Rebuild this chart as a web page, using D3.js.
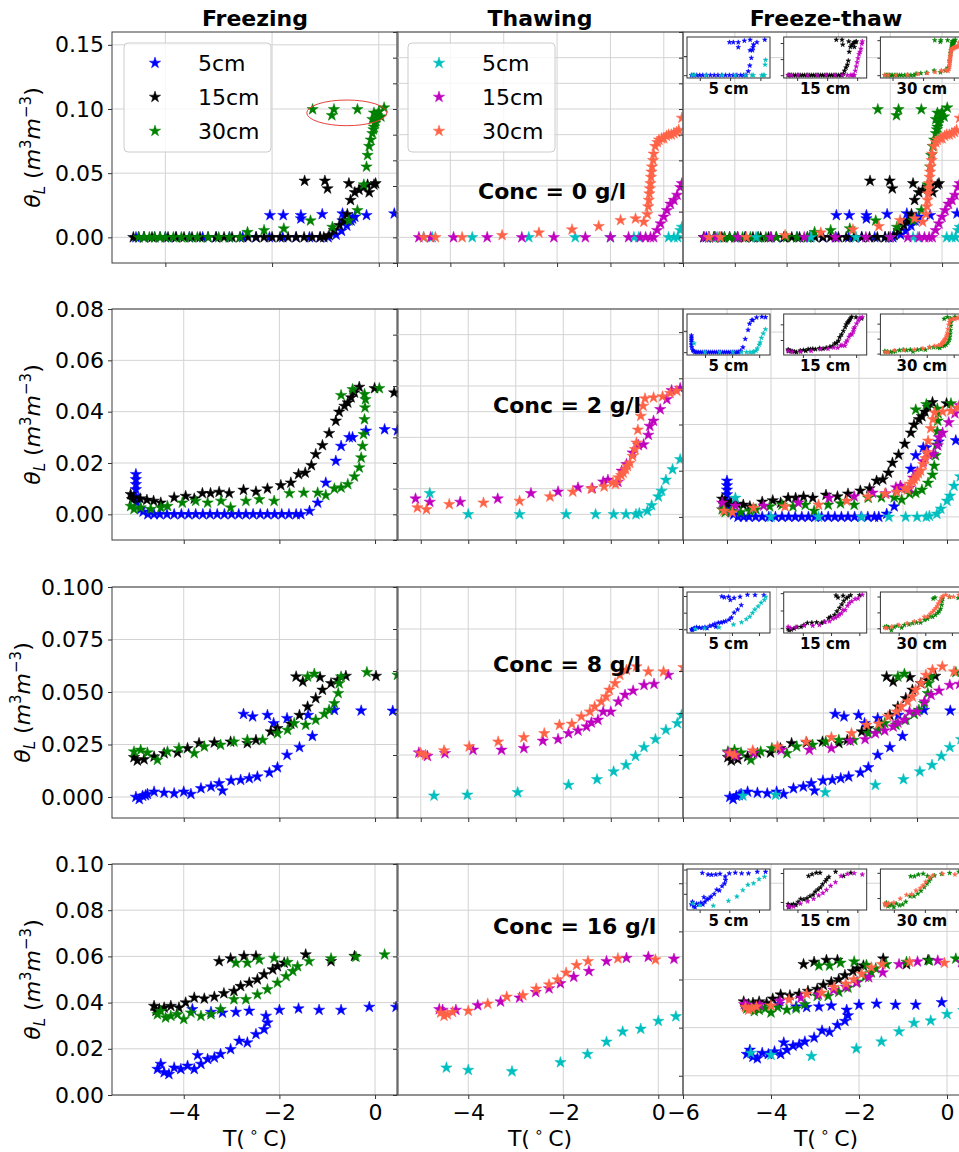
<!DOCTYPE html>
<html>
<head>
<meta charset="utf-8">
<script src="https://cdn.jsdelivr.net/npm/d3@7"></script>
<style>
body { margin: 0; background: #fff; }
svg { display: block; font-family: "DejaVu Sans", sans-serif; }
</style>
</head>
<body>
<svg id="fig" width="959" height="1152"></svg>
<script>
// ---- data: [T (degC), theta_L (m3/m3)] ----

// Conc = 0 g/l
const freeze5_c0 = [[-4.55,0],[-4.4,0],[-4.2,0],[-4.0,0],[-3.8,0],[-3.55,0],[-3.3,0],[-3.05,0],[-2.8,0],[-2.55,0],[-2.3,0],[-2.05,0],[-1.8,0],[-1.55,0],[-1.3,0],[-1.1,0],[-0.95,0],[-0.8,0.002],[-0.7,0.005],[-0.6,0.009],[-0.52,0.013],[-0.45,0.016],
  [-2.04,0.0172],[-1.79,0.0172],[-1.46,0.0172],[-1.46,0.0146],[-1.06,0.018],[-0.68,0.0185],[-0.68,0.013],[-0.49,0.0146],[-0.23,0.0172],[0.29,0.0185]];
const freeze15_c0 = [[-4.6,0],[-4.5,0],[-4.4,0],[-4.25,0],[-4.1,0],[-3.95,0],[-3.8,0],[-3.65,0],[-3.5,0],[-3.35,0],[-3.2,0],[-3.05,0],[-2.9,0],[-2.75,0],[-2.6,0],[-2.45,0],[-2.3,0],[-2.15,0],[-2.0,0],[-1.85,0],[-1.7,0],[-1.55,0],[-1.4,0],[-1.25,0],[-1.1,0],[-1.03,0],
  [-0.93,0.0016],[-0.84,0.0055],[-0.74,0.0094],[-0.65,0.013],[-0.59,0.018],[-0.53,0.029],[-0.45,0.035],[-0.37,0.037],[-0.28,0.039],[-0.18,0.035],[-0.09,0.041],[-0.06,0.042],
  [-1.39,0.044],[-1.01,0.044],[-0.96,0.038],[-0.56,0.042],[-0.21,0.041]];
const freeze30_c0 = [[-4.5,0],[-4.4,0],[-4.3,0],[-4.2,0],[-4.1,0],[-4.0,0],[-3.85,0],[-3.7,0],[-3.55,0],[-3.4,0],[-3.2,0],[-3.0,0],[-2.8,0],[-2.6,0],[-2.46,0.004],[-2.15,0.0055],[-1.78,0.0068],[-1.28,0.013],[-0.87,0.008],[-0.56,0.013],[-0.4,0.021],
  [-0.28,0.041],[-0.23,0.055],[-0.21,0.064],[-0.18,0.071],[-0.15,0.076],[-0.12,0.081],[-0.1,0.084],[-0.09,0.086],[-0.07,0.089],[-0.06,0.091],[-0.04,0.093],[-0.03,0.095],[0.0,0.098],[0.04,0.094],[-0.09,0.097],[-0.12,0.092],
  [-1.24,0.0997],[-0.84,0.0997],[-0.88,0.095],[-0.4,0.0997],[0.1,0.101]];
const thaw5_c0 = [[-4.5,0],[-4.34,0],[-3.59,0],[-2.53,0],[-1.66,0],[-1.0,0],[-0.56,0],[-0.47,0],[0.09,0],[0.19,0],[0.26,0],[0.31,0.0055],[0.34,0.008]];
const thaw15_c0 = [[-4.59,0],[-4.37,0],[-3.94,0],[-3.31,0],[-2.66,0],[-2.06,0],[-1.47,0],[-1.0,0],[-0.66,0],[-0.44,0],[-0.34,0],[-0.25,0],[-0.19,0],[-0.125,0.0055],[-0.06,0.0107],[0,0.016],[0.06,0.021],[0.125,0.026],[0.19,0.029],[0.25,0.033],[0.31,0.039],[0.34,0.042]];
const thaw30_c0 = [[-4.5,0],[-4.28,0],[-3.78,0],[-3.03,0.0016],[-2.34,0.0036],[-1.72,0.006],[-1.22,0.0086],[-0.81,0.0133],[-0.53,0.0146],[-0.375,0.012],[-0.31,0.018],[-0.29,0.024],[-0.28,0.029],[-0.27,0.034],[-0.26,0.038],[-0.25,0.042],[-0.24,0.047],[-0.23,0.051],[-0.22,0.055],[-0.2,0.06],[-0.19,0.065],[-0.16,0.071],[-0.12,0.074],[-0.09,0.076],[-0.04,0.077],[0,0.077],[0.05,0.079],[0.09,0.08],[0.14,0.08],[0.19,0.081],[0.24,0.082],[0.28,0.0836],[0.34,0.093]];

// Conc = 2 g/l
const freeze5_c2 = [[-5.0,0.0156],[-5.0,0.0136],[-5.0,0.0117],[-5.0,0.0097],[-5.0,0.0071],[-4.98,0.0045],[-4.9,0.002],[-4.85,0.001],[-4.75,0],[-4.62,0],[-4.5,0],[-4.35,0],[-4.2,0],[-4.05,0],[-3.9,0],[-3.75,0],[-3.6,0],[-3.45,0],[-3.3,0],[-3.15,0],[-3.0,0],[-2.85,0],[-2.7,0],[-2.55,0],[-2.4,0],[-2.25,0],[-2.1,0],[-1.95,0],[-1.8,0],[-1.65,0],[-1.55,0],
  [-1.37,0.0013],[-1.2,0.0045],[-1.03,0.0123],[-0.82,0.0208],[-0.71,0.0266],[-0.54,0.03],[-0.47,0.03],[-0.19,0.0325],[0.2,0.0331],[0.47,0.0327]];
const freeze15_c2 = [[-5.11,0.0078],[-5.08,0.0058],[-5.05,0.0065],[-4.91,0.0061],[-4.77,0.0056],[-4.63,0.0052],[-4.48,0.0045],[-4.2,0.0065],[-3.96,0.0071],[-3.78,0.0061],[-3.61,0.0082],[-3.44,0.0082],[-3.26,0.0087],[-3.05,0.0082],[-2.75,0.0095],[-2.49,0.0088],[-2.25,0.01],[-1.97,0.0113],[-1.76,0.0123],[-1.6,0.0156],[-1.46,0.0162],[-1.33,0.0191],[-1.24,0.0234],[-1.1,0.0269],[-0.96,0.0316],[-0.82,0.0364],[-0.75,0.0399],[-0.64,0.0422],[-0.57,0.0435],[-0.5,0.0455],[-0.43,0.0474],[-0.33,0.0496],[-0.01,0.0491],[0.4,0.0474]];
const freeze30_c2 = [[-5.11,0.0032],[-5.04,0.002],[-4.9,0.0026],[-4.69,0.002],[-4.48,0.0026],[-4.34,0.0032],[-4.03,0.0045],[-3.75,0.0052],[-3.5,0.0045],[-3.22,0.0052],[-3.02,0.0026],[-2.7,0.0052],[-2.42,0.0058],[-2.11,0.0052],[-1.79,0.0082],[-1.49,0.0084],[-1.2,0.0084],[-1.03,0.0074],[-0.85,0.01],[-0.71,0.0104],[-0.57,0.0117],[-0.43,0.0147],[-0.33,0.0182],[-0.29,0.0221],[-0.26,0.0266],[-0.24,0.0312],[-0.22,0.037],[-0.21,0.0416],[-0.2,0.0448],[-0.22,0.0468],[-0.71,0.0464],[-0.47,0.0487],[0.09,0.0491]];
const thaw5_c2 = [[-4.81,0.0082],[-4.0,0],[-2.92,0],[-1.94,0],[-1.32,0],[-0.94,0],[-0.68,0],[-0.47,0],[-0.4,0.0004],[-0.23,0.0013],[-0.14,0.0035],[0,0.0069],[0.07,0.0091],[0.16,0.0134],[0.3,0.0175],[0.46,0.0214]];
const thaw15_c2 = [[-5.11,0.0061],[-4.81,0.0048],[-4.17,0.0048],[-3.38,0.0061],[-2.68,0.0082],[-2.11,0.0088],[-1.69,0.0104],[-1.39,0.0101],[-1.16,0.0127],[-1.06,0.0134],[-0.85,0.0126],[-0.77,0.0169],[-0.67,0.0195],[-0.54,0.024],[-0.42,0.0269],[-0.31,0.0272],[-0.21,0.0309],[-0.18,0.0344],[-0.1,0.0364],[0.04,0.0409],[0.18,0.0448],[0.28,0.0483],[0.46,0.0491]];
const thaw30_c2 = [[-5.07,0.0026],[-4.88,0.0019],[-4.4,0.0039],[-3.68,0.0045],[-2.92,0.0052],[-2.28,0.0069],[-1.8,0.0088],[-1.41,0.01],[-1.14,0.0108],[-0.96,0.0123],[-0.9,0.0118],[-0.84,0.0143],[-0.78,0.0152],[-0.74,0.0162],[-0.69,0.0175],[-0.65,0.0188],[-0.6,0.02],[-0.54,0.0227],[-0.49,0.0253],[-0.46,0.0279],[-0.43,0.0329],[-0.37,0.0383],[-0.32,0.0422],[-0.28,0.0451],[-0.1,0.0455],[0.09,0.0459],[0.25,0.0472],[0.39,0.0481]];

// Conc = 8 g/l
const freeze5_c8 = [[-5.0,0],[-4.93,-0.001],[-4.86,0.0005],[-4.8,0.0008],[-4.76,0.0014],[-4.62,0.0025],[-4.41,0.002],[-4.2,0.0017],[-4.0,0.0025],[-3.85,0.0014],[-3.64,0.0041],[-3.43,0.0049],[-3.26,0.0065],[-3.19,0.003],[-3.01,0.0078],[-2.81,0.0081],[-2.63,0.0089],[-2.46,0.0097],[-2.21,0.0116],[-2.04,0.0141],[-1.84,0.02],[-1.58,0.0237],[-1.31,0.029],[-0.85,0.0414],[-0.29,0.0411],[0.37,0.041],
  [-2.75,0.0395],[-2.56,0.0383],[-2.25,0.039],[-2.12,0.0351],[-1.84,0.0375],[-1.4,0.039]];
const freeze15_c8 = [[-5.04,0.0189],[-4.97,0.0173],[-4.83,0.0179],[-4.62,0.0192],[-4.41,0.0208],[-4.13,0.0211],[-3.92,0.0232],[-3.68,0.0256],[-3.36,0.0259],[-3.02,0.0263],[-2.67,0.0256],[-2.49,0.0271],[-2.18,0.0311],[-2.04,0.0327],[-1.76,0.0348],[-1.58,0.039],[-1.41,0.043],[-1.24,0.047],[-1.1,0.051],[-0.92,0.0541],[-0.78,0.0557],[-0.61,0.0576],
  [-1.65,0.0573],[-1.51,0.0549],[-1.15,0.057],[0.02,0.0576]];
const freeze30_c8 = [[-5.04,0.0216],[-4.9,0.0224],[-4.76,0.0211],[-4.55,0.0176],[-4.34,0.0216],[-4.1,0.0232],[-3.78,0.0208],[-3.57,0.024],[-3.23,0.0248],[-2.95,0.0263],[-2.67,0.0271],[-2.35,0.0271],[-2.04,0.0303],[-1.83,0.0319],[-1.69,0.0351],[-1.45,0.0343],[-1.24,0.0367],[-1.06,0.0395],[-0.96,0.0414],[-0.85,0.0446],[-0.77,0.0494],[-0.75,0.0541],[-0.71,0.0573],
  [-1.41,0.0573],[-1.27,0.0586],[-0.17,0.0594],[0.47,0.0581]];
const thaw5_c8 = [[-4.72,0.0006],[-4.02,0.001],[-2.96,0.0022],[-1.89,0.0057],[-1.29,0.0084],[-0.94,0.0121],[-0.68,0.0152],[-0.48,0.0195],[-0.3,0.0237],[-0.06,0.0275],[0.16,0.0319],[0.4,0.0351],[0.49,0.039]];
const thaw15_c8 = [[-5.04,0.0211],[-4.86,0.0195],[-4.49,0.0208],[-3.9,0.0224],[-3.3,0.0224],[-2.83,0.0232],[-2.43,0.0267],[-2.11,0.0275],[-1.89,0.0303],[-1.69,0.0316],[-1.51,0.0335],[-1.41,0.0354],[-1.27,0.0367],[-1.16,0.0406],[-1.0,0.0406],[-0.84,0.0454],[-0.7,0.0486],[-0.53,0.0506],[-0.3,0.0533],[-0.09,0.0538],[0.21,0.0581]];
const thaw30_c8 = [[-5.0,0.0208],[-4.9,0.02],[-4.51,0.0221],[-3.98,0.024],[-3.37,0.0263],[-2.83,0.0284],[-2.4,0.0303],[-2.08,0.0343],[-1.82,0.0348],[-1.62,0.0383],[-1.44,0.0406],[-1.34,0.043],[-1.2,0.0454],[-1.1,0.0478],[-1.03,0.051],[-0.91,0.0541],[-0.81,0.0581],[-0.67,0.0605],[-0.46,0.0621],[-0.21,0.0597],[0.11,0.0597],[0.53,0.0617]];

// Conc = 16 g/l
const freeze5_c16 = [[-4.55,0.0112],[-4.48,0.0134],[-4.41,0.0098],[-4.31,0.009],[-4.2,0.0118],[-4.06,0.0112],[-3.92,0.0126],[-3.78,0.0112],[-3.71,0.0172],[-3.64,0.0134],[-3.5,0.0155],[-3.36,0.0162],[-3.23,0.0177],[-3.02,0.0198],[-2.84,0.0234],[-2.67,0.0227],[-2.49,0.0263],[-2.32,0.0284],[-2.25,0.0313],[-2.28,0.0342],
  [-3.82,0.0371],[-3.43,0.0359],[-3.19,0.0356],[-2.91,0.0359],[-2.63,0.0364],[-2.0,0.0368],[-1.6,0.0374],[-1.17,0.0368],[-0.71,0.0368],[-0.12,0.0381],[0.44,0.0381]];
const freeze15_c16 = [[-4.62,0.0385],[-4.58,0.0364],[-4.51,0.0371],[-4.41,0.0378],[-4.27,0.0385],[-4.1,0.0378],[-3.96,0.04],[-3.78,0.0421],[-3.57,0.0417],[-3.36,0.0425],[-3.16,0.044],[-2.95,0.045],[-2.81,0.0471],[-2.63,0.0486],[-2.46,0.05],[-2.32,0.0522],[-2.14,0.0543],[-2.04,0.0557],[-1.9,0.0572],
  [-3.26,0.0579],[-3.02,0.0591],[-2.74,0.0601],[-2.49,0.0601],[-1.45,0.0608],[-0.92,0.0579],[-0.43,0.0601]];
const freeze30_c16 = [[-4.55,0.0349],[-4.48,0.0363],[-4.38,0.0335],[-4.27,0.0342],[-4.13,0.0349],[-4.0,0.0328],[-3.85,0.0356],[-3.64,0.0342],[-3.43,0.0349],[-3.23,0.0371],[-2.95,0.0414],[-2.7,0.0414],[-2.46,0.0435],[-2.25,0.0457],[-2.04,0.0486],[-1.86,0.0514],[-1.72,0.0536],[-1.62,0.0557],
  [-2.91,0.0572],[-2.67,0.0572],[-2.42,0.0586],[-2.11,0.0593],[-1.83,0.0575],[-1.38,0.0579],[-0.92,0.0591],[-0.4,0.0598],[0.2,0.0608]];
const thaw5_c16 = [[-4.46,0.0118],[-4.0,0.0108],[-3.08,0.0102],[-2.06,0.0141],[-1.49,0.0177],[-1.09,0.023],[-0.75,0.0274],[-0.37,0.0286],[0,0.032],[0.37,0.034]];
const thaw15_c16 = [[-4.61,0.0371],[-4.54,0.0368],[-4.26,0.0368],[-3.8,0.0388],[-3.32,0.0404],[-2.92,0.0421],[-2.58,0.0445],[-2.3,0.0461],[-2.06,0.0483],[-1.78,0.0511],[-1.46,0.0536],[-1.09,0.0579],[-0.67,0.0593],[-0.21,0.0598],[0.33,0.0589]];
const thaw30_c16 = [[-4.58,0.0356],[-4.51,0.0342],[-4.44,0.0349],[-4.33,0.0359],[-4.0,0.0364],[-3.59,0.0395],[-3.19,0.0425],[-2.85,0.0431],[-2.57,0.046],[-2.3,0.0478],[-2.12,0.05],[-1.94,0.0529],[-1.72,0.0562],[-1.48,0.0579],[-0.85,0.0591],[-0.06,0.0586]];

const depthLabels = ["5cm", "15cm", "30cm"];
const insetLabels = ["5 cm", "15 cm", "30 cm"];
const colTitles = ["Freezing", "Thawing", "Freeze-thaw"];
const concLabels = ["Conc = 0 g/l", "Conc = 2 g/l", "Conc = 8 g/l", "Conc = 16 g/l"];
const freezeColors = ["#0000ff", "#000000", "#008000"];
const thawColors = ["#00bfbf", "#bf00bf", "#ff6347"];

const rows = [
	{freeze: [freeze5_c0, freeze15_c0, freeze30_c0], thaw: [thaw5_c0, thaw15_c0, thaw30_c0]},
	{freeze: [freeze5_c2, freeze15_c2, freeze30_c2], thaw: [thaw5_c2, thaw15_c2, thaw30_c2]},
	{freeze: [freeze5_c8, freeze15_c8, freeze30_c8], thaw: [thaw5_c8, thaw15_c8, thaw30_c8]},
	{freeze: [freeze5_c16, freeze15_c16, freeze30_c16], thaw: [thaw5_c16, thaw15_c16, thaw30_c16]}
];

// axis setup per panel [row][col]
const xDomains = [
	[[-5.0, 0.36], [-5.0, 0.36], [-5.0, 0.52]],
	[[-5.5, 0.48], [-5.5, 0.52], [-6, 0.5]],
	[[-5.5, 0.48], [-5.5, 0.52], [-6, 0.11]],
	[[-5.5, 0.48], [-5.5, 0.52], [-6, 0.5]]
];
const xSteps = [[2, 1, 1], [2, 1, 1], [2, 1, 1], [2, 2, 2]];
const yDomains = [
	[[-0.02, 0.16], [-0.02, 0.16], [-0.02, 0.16]],
	[[-0.01, 0.08], [-0.01, 0.08], [-0.01, 0.09]],
	[[-0.01, 0.10], [-0.01, 0.10], [-0.01, 0.10]],
	[[0, 0.10], [0, 0.10], [-0.01, 0.11]]
];
const ySteps = [[0.05, 0.02, 0.02], [0.02, 0.01, 0.02], [0.025, 0.02, 0.02], [0.02, 0.02, 0.025]];
const yDecimals = [2, 2, 3, 2];

var svg = d3.select("#fig");
var colLeft = [112, 397, 683], panelW = 286,
	rowTop = [32, 309, 587, 864], panelH = 231;
var FONT = "DejaVu Sans, sans-serif";
var star = d3.symbol().type(d3.symbolStar).size(40);
var smallStar = d3.symbol().type(d3.symbolStar).size(7);

function tickVals(dom, step) {
	var v = [], k = Math.ceil(dom[0] / step - 1e-9);
	for (; k * step <= dom[1] + 1e-9; k++) v.push(+(k * step).toFixed(4));
	return v;
}

function drawStars(g, pts, x, y, color, sym) {
	g.selectAll(null).data(pts).enter()
		.append("path")
		.attr("d", sym)
		.attr("transform", d => "translate(" + x(d[0]) + "," + y(d[1]) + ")")
		.attr("fill", color)
		.attr("stroke", color)
		.attr("stroke-width", 0.5);
}

function styleAxis(g) {
	g.select("path.domain").remove();
	g.attr("font-size", 22).attr("font-family", FONT);
	g.selectAll("line").attr("stroke", "#333").attr("stroke-width", 1);
	g.selectAll("text").attr("fill", "#000");
}

function drawPanel(r, c) {
	var left = colLeft[c], top = rowTop[r];
	var x = d3.scaleLinear().domain(xDomains[r][c]).range([left, left + panelW]);
	var y = d3.scaleLinear().domain(yDomains[r][c]).range([top + panelH, top]);
	var xt = tickVals(xDomains[r][c], xSteps[r][c]);
	var yt = tickVals(yDomains[r][c], ySteps[r][c]);
	var g = svg.append("g").attr("class", "panel");

	// grid
	g.append("g").selectAll("line").data(xt).enter().append("line")
		.attr("x1", d => x(d)).attr("x2", d => x(d))
		.attr("y1", top).attr("y2", top + panelH)
		.attr("stroke", "#d3d3d3").attr("stroke-width", 1);
	g.append("g").selectAll("line").data(yt).enter().append("line")
		.attr("y1", d => y(d)).attr("y2", d => y(d))
		.attr("x1", left).attr("x2", left + panelW)
		.attr("stroke", "#d3d3d3").attr("stroke-width", 1);

	// data
	var id = "clip" + r + c;
	svg.append("clipPath").attr("id", id).append("rect")
		.attr("x", left).attr("y", top).attr("width", panelW).attr("height", panelH);
	var dg = g.append("g").attr("clip-path", "url(#" + id + ")");
	var series = [];
	if (c !== 1) rows[r].freeze.forEach((s, i) => series.push({pts: s, color: freezeColors[i]}));
	if (c !== 0) rows[r].thaw.forEach((s, i) => series.push({pts: s, color: thawColors[i]}));
	series.forEach(s => drawStars(dg, s.pts, x, y, s.color, star));

	// axes
	var fmtY = d3.format("." + yDecimals[r] + "f");
	var ya = d3.axisLeft(y).tickValues(yt).tickSize(4).tickPadding(4)
		.tickFormat(c === 0 ? fmtY : "");
	g.append("g").attr("transform", "translate(" + left + ",0)").call(ya).call(styleAxis);
	var xa = d3.axisBottom(x).tickValues(xt).tickSize(4).tickPadding(5)
		.tickFormat(r === 3 ? d3.format("d") : "");
	g.append("g").attr("transform", "translate(0," + (top + panelH) + ")").call(xa).call(styleAxis);

	// spines
	g.append("rect").attr("x", left).attr("y", top).attr("width", panelW).attr("height", panelH)
		.attr("fill", "none").attr("stroke", "#3a3a3a").attr("stroke-width", 1);

	if (c === 2) drawInsets(r, top);
	return {x: x, y: y};
}

function drawInsets(r, top) {
	var w = 83, h = 41;
	for (var i = 0; i < 3; i++) {
		var left = 687 + i * 96.7, itop = top + 5;
		var pts = rows[r].freeze[i].concat(rows[r].thaw[i]);
		var xe = d3.extent(pts, d => d[0]), ye = d3.extent(pts, d => d[1]);
		var xp = (xe[1] - xe[0]) * 0.06, yp = (ye[1] - ye[0]) * 0.08;
		var x = d3.scaleLinear().domain([xe[0] - xp, xe[1] + xp]).range([left, left + w]);
		var y = d3.scaleLinear().domain([ye[0] - yp, ye[1] + yp]).range([itop + h, itop]);
		var g = svg.append("g").attr("class", "inset");
		g.append("rect").attr("x", left).attr("y", itop).attr("width", w).attr("height", h)
			.attr("fill", "#fff");
		drawStars(g, rows[r].freeze[i], x, y, freezeColors[i], smallStar);
		drawStars(g, rows[r].thaw[i], x, y, thawColors[i], smallStar);
		g.append("g").attr("transform", "translate(" + left + ",0)")
			.call(d3.axisLeft(y).ticks(2).tickSize(3).tickFormat("")).call(styleAxis);
		g.append("g").attr("transform", "translate(0," + (itop + h) + ")")
			.call(d3.axisBottom(x).ticks(2).tickSize(3).tickFormat("")).call(styleAxis);
		g.append("rect").attr("x", left).attr("y", itop).attr("width", w).attr("height", h)
			.attr("fill", "none").attr("stroke", "#333").attr("stroke-width", 1);
		g.append("text").attr("x", left + w / 2).attr("y", itop + h + 16)
			.attr("text-anchor", "middle").attr("font-family", FONT)
			.attr("font-weight", "bold").attr("font-size", 15).text(insetLabels[i]);
	}
}

function drawLegend(left, top, colors) {
	var g = svg.append("g");
	g.append("rect").attr("x", left).attr("y", top).attr("width", 147).attr("height", 109)
		.attr("rx", 4).attr("fill", "#fff").attr("fill-opacity", 0.8)
		.attr("stroke", "#cccccc").attr("stroke-width", 1);
	depthLabels.forEach((lab, i) => {
		var cy = top + 20 + i * 34;
		g.append("path").attr("d", star).attr("transform", "translate(" + (left + 31) + "," + cy + ")")
			.attr("fill", colors[i]).attr("stroke", colors[i]).attr("stroke-width", 0.5);
		g.append("text").attr("x", left + 74).attr("y", cy + 8)
			.attr("font-family", FONT).attr("font-size", 22).text(lab);
	});
}

var conc = [[478, 167], [493, 104], [493, 85], [493, 70]];
var scales00;
for (var r = 0; r < 4; r++) {
	for (var c = 0; c < 3; c++) {
		var s = drawPanel(r, c);
		if (r === 0 && c === 0) scales00 = s;
	}
	svg.append("text").attr("x", conc[r][0]).attr("y", rowTop[r] + conc[r][1])
		.attr("font-family", FONT).attr("font-weight", "bold").attr("font-size", 22)
		.text(concLabels[r]);

	// y label (row 3 tick labels are wider, so it sits further left)
	var cy = rowTop[r] + panelH / 2;
	var lx = r === 2 ? 30 : 40;
	var yl = svg.append("text").attr("transform", "translate(" + lx + "," + cy + ") rotate(-90)")
		.attr("text-anchor", "middle").attr("font-family", FONT).attr("font-size", 22);
	yl.append("tspan").attr("font-style", "italic").text("\u03B8");
	yl.append("tspan").attr("font-style", "italic").attr("font-size", 15).attr("dy", 5).text("L");
	yl.append("tspan").attr("dy", -5).text(" (");
	yl.append("tspan").attr("font-style", "italic").text("m");
	yl.append("tspan").attr("font-size", 15).attr("dy", -9).text("3");
	yl.append("tspan").attr("font-style", "italic").attr("dy", 9).text("m");
	yl.append("tspan").attr("font-size", 15).attr("dy", -9).text("\u22123");
	yl.append("tspan").attr("dy", 9).text(")");
}

// column titles and x labels
colTitles.forEach((t, c) => {
	var cx = colLeft[c] + panelW / 2;
	svg.append("text").attr("x", cx).attr("y", 26).attr("text-anchor", "middle")
		.attr("font-family", FONT).attr("font-weight", "bold").attr("font-size", 22).text(t);
	var xl = svg.append("text").attr("x", cx).attr("y", 1146).attr("text-anchor", "middle")
		.attr("font-family", FONT).attr("font-size", 22);
	xl.append("tspan").text("T(\u2009");
	xl.append("tspan").attr("font-size", 15).attr("dy", -9).text("\u2218");
	xl.append("tspan").attr("dy", 9).text("\u2009C)");
});

drawLegend(124, 43, freezeColors);
drawLegend(408, 43, thawColors);

// red ellipse marking the 30cm plateau
svg.append("ellipse")
	.attr("cx", scales00.x(-0.6)).attr("cy", scales00.y(0.097))
	.attr("rx", scales00.x(0.15) - scales00.x(-0.6))
	.attr("ry", scales00.y(0.087) - scales00.y(0.097))
	.attr("fill", "none").attr("stroke", "#e8413c").attr("stroke-width", 1);
</script>
</body>
</html>
